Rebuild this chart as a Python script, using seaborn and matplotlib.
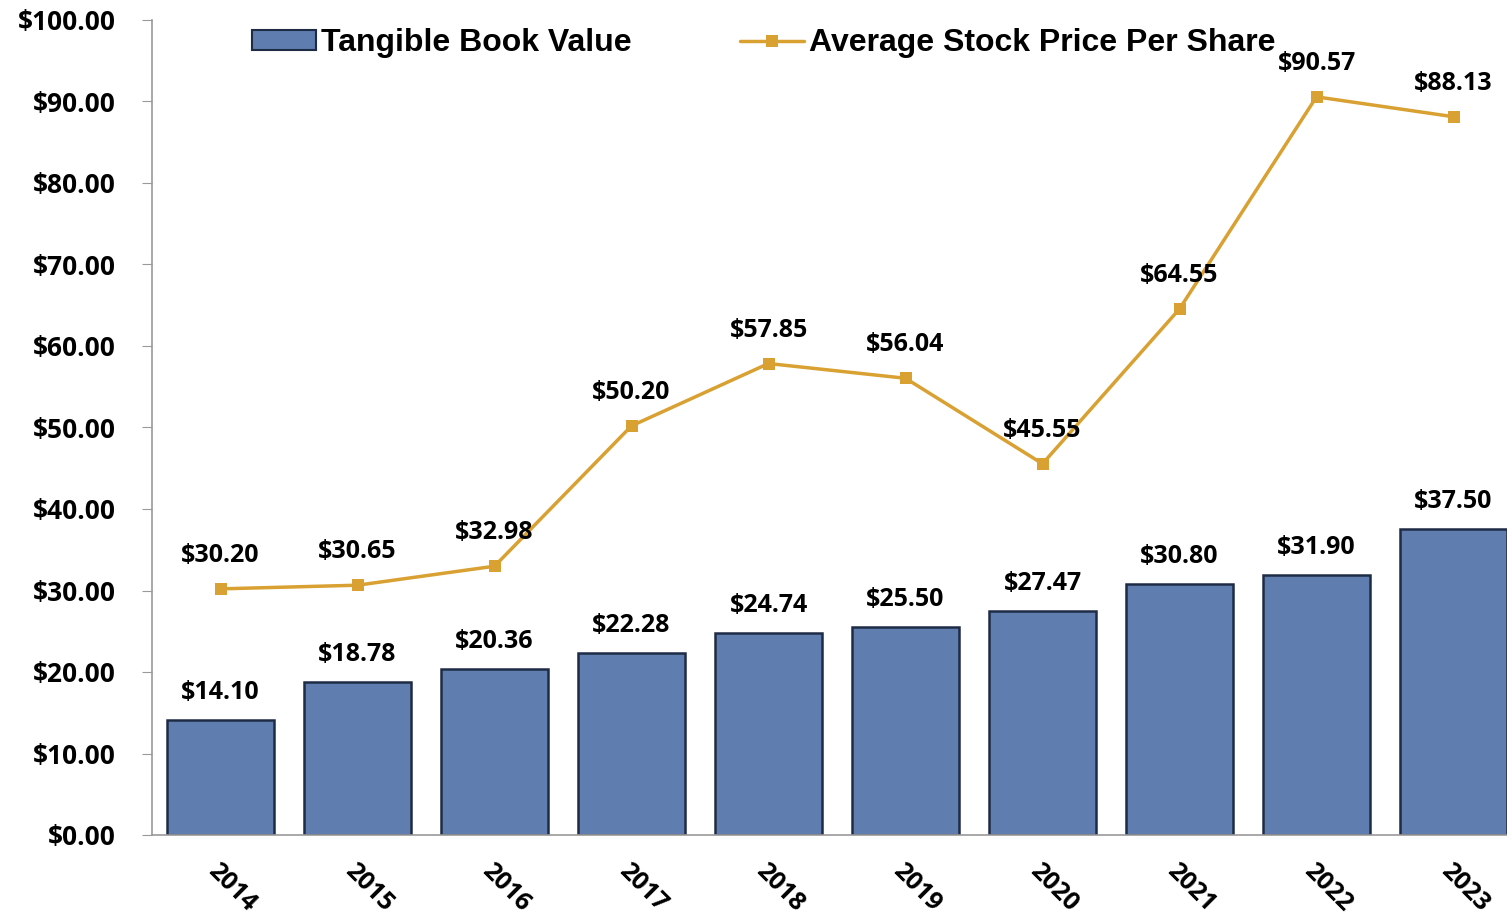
import pandas as pd
import matplotlib.pyplot as plt
import seaborn as sns
from matplotlib.lines import Line2D
from matplotlib.patches import Patch

# data
years = ['2014', '2015', '2016', '2017', '2018', '2019', '2020', '2021', '2022', '2023']
book_value = [14.10, 18.78, 20.36, 22.28, 24.74, 25.50, 27.47, 30.80, 31.90, 37.50]
stock_price = [30.20, 30.65, 32.98, 50.20, 57.85, 56.04, 45.55, 64.55, 90.57, 88.13]
y_ticks = [0, 10, 20, 30, 40, 50, 60, 70, 80, 90, 100]

df = pd.DataFrame({'year': years, 'tbv': book_value, 'price': stock_price})

sns.set_style('white')
plt.rcParams['font.family'] = ['Open Sans', 'DejaVu Sans']
plt.rcParams['text.color'] = 'black'
plt.rcParams['xtick.color'] = 'black'
plt.rcParams['ytick.color'] = 'black'

bar_color = '#5F7DAF'
line_color = '#D9A032'

fig = plt.figure(figsize=(15.07, 9.24), dpi=100)
ax = fig.add_axes([152 / 1507, 1 - 835 / 924, 1370 / 1507, 815 / 924])

sns.barplot(data=df, x='year', y='tbv', color=bar_color, width=0.78,
            edgecolor='#1E2B45', linewidth=1.8, saturation=1, ax=ax, zorder=2)
sns.lineplot(data=df, x='year', y='price', color=line_color, linewidth=2.5,
             marker='s', markersize=9, markeredgewidth=0, ax=ax, zorder=3)

# value labels
for i, v in enumerate(book_value):
    ax.annotate(f'${v:.2f}', (i, v), xytext=(0, 11), textcoords='offset points',
                ha='center', va='bottom', fontsize=18, fontweight='bold')
for i, v in enumerate(stock_price):
    ax.annotate(f'${v:.2f}', (i, v), xytext=(0, 15), textcoords='offset points',
                ha='center', va='bottom', fontsize=18, fontweight='bold')

ax.set_xlim(-0.5, 9.5)
ax.set_ylim(0, 100)
ax.set_yticks(y_ticks)
ax.set_yticklabels([f'${t:.2f}' for t in y_ticks], fontsize=19, fontweight='bold')
ax.set_xticks(range(len(years)))
ax.set_xticklabels(years, rotation=-45, ha='left', rotation_mode='anchor',
                   fontsize=18, fontweight='bold')
ax.tick_params(axis='y', direction='out', length=7, color='#999999', left=True, pad=19)
ax.tick_params(axis='x', length=0, pad=17)
ax.set_xlabel('')
ax.set_ylabel('')

for side in ['top', 'right']:
    ax.spines[side].set_visible(False)
for side in ['left', 'bottom']:
    ax.spines[side].set_color('#999999')
    ax.spines[side].set_linewidth(1.2)

handles = [Patch(facecolor=bar_color, edgecolor='#1E2B45', linewidth=1.5),
           Line2D([0], [0], color=line_color, linewidth=2.5, marker='s',
                  markersize=9, markeredgewidth=0)]
leg = ax.legend(handles, ['Tangible Book Value', 'Average Stock Price Per Share'],
                loc='upper left', bbox_to_anchor=(0.052, 1.025), ncol=2, frameon=False,
                prop={'family': 'Liberation Sans', 'weight': 'bold', 'size': 23},
                handlelength=2.0, handleheight=0.6, handletextpad=0.15, columnspacing=3.4)

fig.savefig('out.png', dpi=100)
